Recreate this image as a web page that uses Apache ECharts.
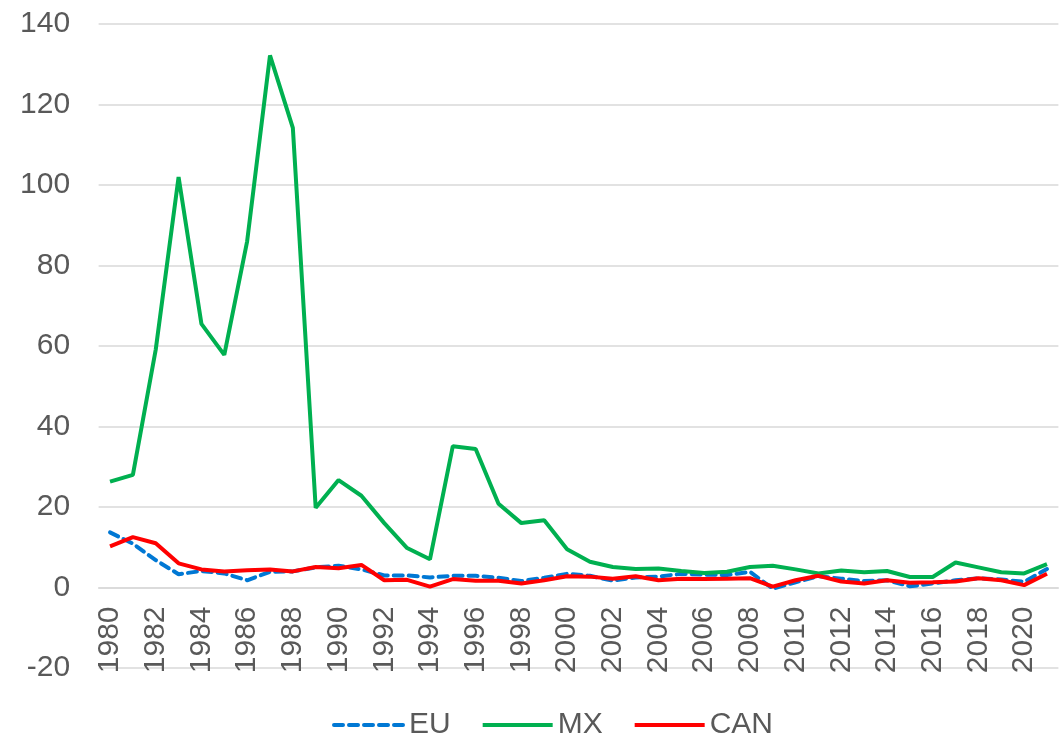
<!DOCTYPE html>
<html>
<head>
<meta charset="utf-8">
<script src="https://cdn.jsdelivr.net/npm/echarts@6/dist/echarts.min.js"></script>
<style>
  html, body { margin: 0; padding: 0; background: #fff; }
  #chart { width: 1061px; height: 739px; }
</style>
</head>
<body>
<div id="chart"></div>
<script>
// years on the category axis
const years = [];
for (let y = 1980; y <= 2021; y++) years.push(String(y));

// values
const euValues = [13.7, 10.9, 6.8, 3.3, 4.1, 3.5, 1.8, 3.9, 4.0, 5.0,
  5.4, 4.5, 3.0, 3.0, 2.5, 2.9, 2.9, 2.4, 1.6, 2.4,
  3.4, 2.9, 1.7, 2.5, 2.7, 3.4, 3.2, 3.1, 3.9, -0.3,
  1.3, 2.8, 2.2, 1.6, 1.8, 0.3, 1.0, 1.8, 2.3, 2.0,
  1.4, 4.6];
const mxValues = [26.3, 28.0, 59.1, 102.0, 65.5, 57.8, 86.0, 132.2, 114.2, 19.8,
  26.7, 22.8, 16.0, 9.8, 7.0, 35.1, 34.4, 20.8, 16.0, 16.7,
  9.5, 6.4, 5.1, 4.6, 4.7, 4.1, 3.6, 3.9, 5.1, 5.4,
  4.5, 3.5, 4.2, 3.8, 4.1, 2.6, 2.6, 6.2, 5.0, 3.8,
  3.5, 5.8];
const canValues = [10.2, 12.5, 11.0, 6.0, 4.5, 4.0, 4.3, 4.5, 4.0, 5.1,
  4.8, 5.6, 1.8, 1.9, 0.2, 2.1, 1.7, 1.7, 1.0, 1.8,
  2.8, 2.7, 2.2, 2.8, 1.8, 2.2, 2.1, 2.2, 2.3, 0.2,
  1.8, 2.9, 1.5, 1.0, 1.8, 1.2, 1.3, 1.5, 2.3, 1.8,
  0.6, 3.4];

const font = '"Liberation Sans", Arial, sans-serif';
const textColor = '#595959';

const chart = echarts.init(document.getElementById('chart'));

// plot box: -20 sits at the bottom edge, the year axis crosses at 0 (one 20-step up)
const gridTop = 24;
const gridBottom = 71;
const stepPx = (739 - gridTop - gridBottom) / 8;

chart.setOption({
  animation: false,
  grid: { left: 98.6, right: 2.6, top: gridTop, bottom: gridBottom, containLabel: false, outerBoundsMode: 'none' },
  legend: {
    top: 705,
    left: 327,
    itemWidth: 70,
    itemHeight: 14,
    itemGap: 30,
    itemStyle: { opacity: 0 },
    lineStyle: { width: 4 },
    textStyle: { fontFamily: font, fontSize: 30, color: textColor },
    data: ['EU', 'MX', 'CAN']
  },
  xAxis: {
    type: 'category',
    data: years,
    boundaryGap: true,
    offset: -stepPx,
    axisLine: { onZero: false, lineStyle: { color: '#d9d9d9', width: 1.5 } },
    axisTick: { show: false },
    axisLabel: {
      interval: 1,
      rotate: 90,
      margin: 19,
      fontFamily: font,
      fontSize: 30,
      color: textColor
    }
  },
  yAxis: {
    type: 'value',
    min: -20,
    max: 140,
    interval: 20,
    axisLine: { show: false },
    axisTick: { show: false },
    splitLine: { lineStyle: { color: '#d9d9d9', width: 1.5 } },
    axisLabel: {
      margin: 28.5,
      fontFamily: font,
      fontSize: 30,
      color: textColor
    }
  },
  series: [
    {
      name: 'EU',
      type: 'line',
      data: euValues,
      symbol: 'none',
      lineStyle: { color: '#0078d4', width: 4, type: [9, 6], cap: 'round' },
      itemStyle: { color: '#0078d4' },
      z: 2
    },
    {
      name: 'MX',
      type: 'line',
      data: mxValues,
      symbol: 'none',
      lineStyle: { color: '#00b050', width: 4 },
      itemStyle: { color: '#00b050' },
      z: 3
    },
    {
      name: 'CAN',
      type: 'line',
      data: canValues,
      symbol: 'none',
      lineStyle: { color: '#ff0000', width: 4 },
      itemStyle: { color: '#ff0000' },
      z: 4
    }
  ]
});
</script>
</body>
</html>
